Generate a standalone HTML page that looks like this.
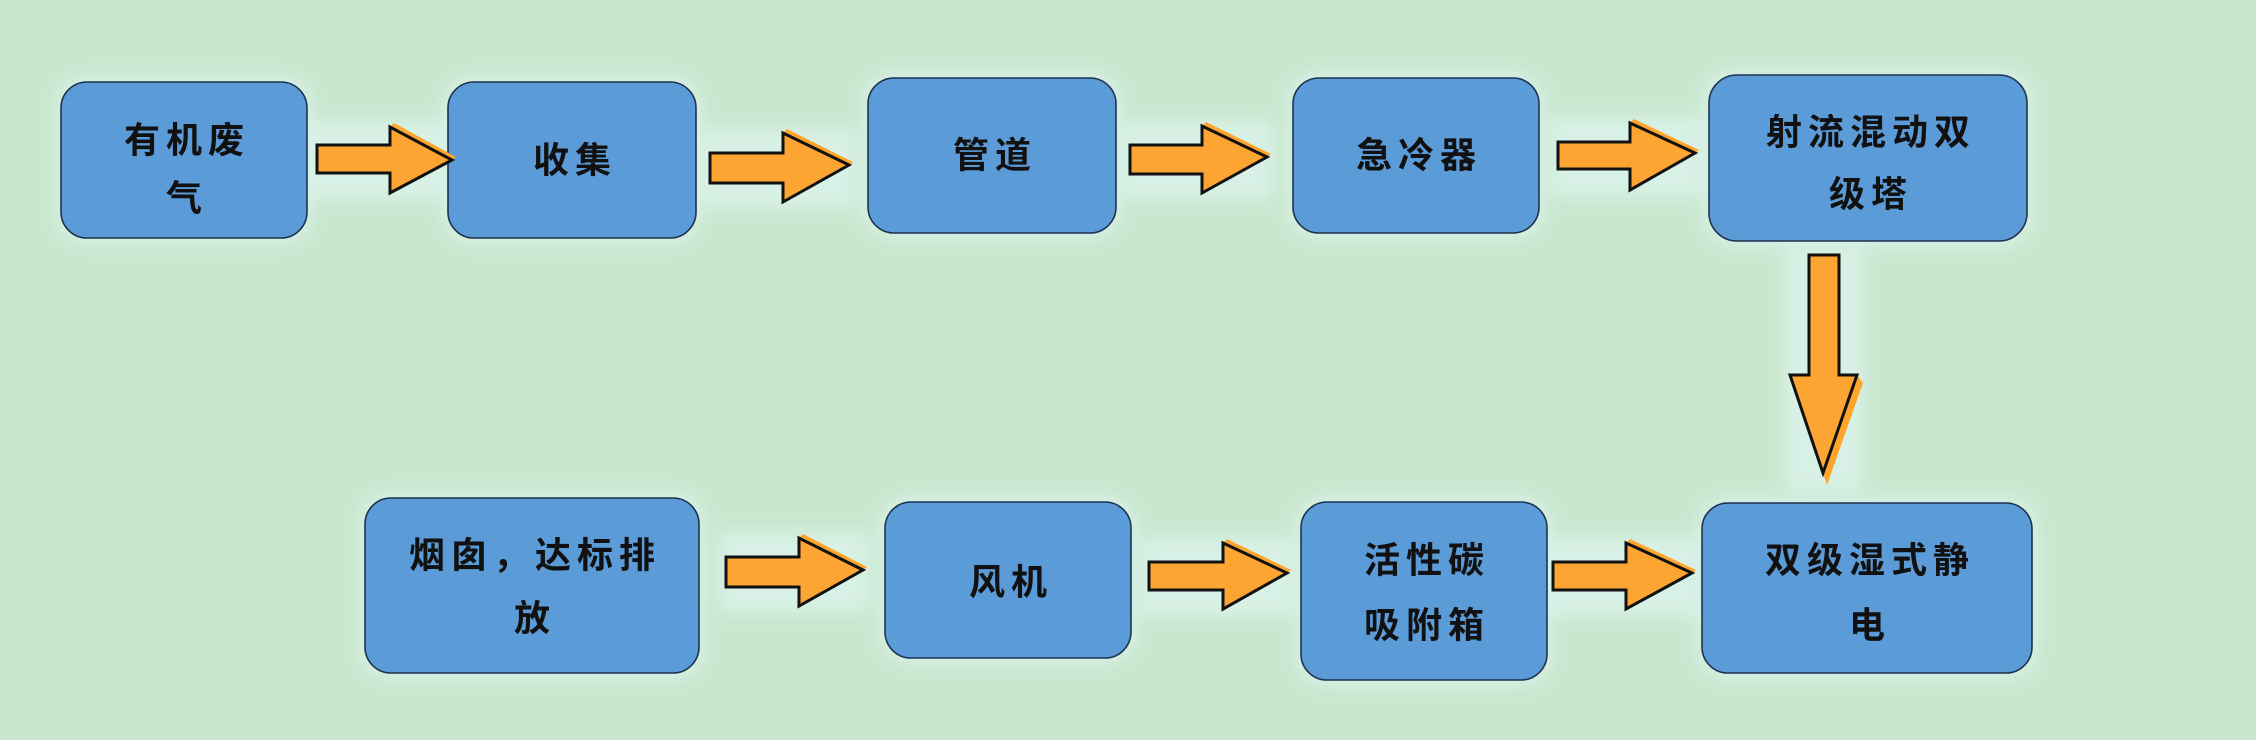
<!DOCTYPE html>
<html>
<head>
<meta charset="utf-8">
<style>
  html, body { margin: 0; padding: 0; }
  body { width: 2256px; height: 740px; overflow: hidden; background: #c9e7cf; }
  svg { display: block; }
  .t { font-family: "Liberation Sans", "Noto Sans CJK SC", sans-serif; font-size: 36px; font-weight: 700; fill: #111; letter-spacing: 6px; }
</style>
</head>
<body>
<svg width="2256" height="740" viewBox="0 0 2256 740" xmlns="http://www.w3.org/2000/svg">
  <defs>
    <filter id="halo" x="-20%" y="-30%" width="140%" height="160%">
      <feGaussianBlur stdDeviation="8"/>
    </filter>
  </defs>
  <rect x="0" y="0" width="2256" height="740" fill="#c9e7cf"/>

  <!-- halos -->
  <g fill="#d8f1e6" filter="url(#halo)">
    <rect x="56" y="77" width="256" height="166" rx="30"/>
    <rect x="443" y="77" width="258" height="166" rx="30"/>
    <rect x="863" y="73" width="258" height="165" rx="30"/>
    <rect x="1288" y="73" width="256" height="165" rx="30"/>
    <rect x="1704" y="70" width="328" height="176" rx="30"/>
    <rect x="360" y="493" width="344" height="185" rx="30"/>
    <rect x="880" y="497" width="256" height="166" rx="30"/>
    <rect x="1296" y="497" width="256" height="188" rx="30"/>
    <rect x="1697" y="498" width="340" height="180" rx="30"/>
    <rect x="310" y="120" width="150" height="80"/>
    <rect x="703" y="128" width="152" height="80"/>
    <rect x="1123" y="120" width="150" height="80"/>
    <rect x="1551" y="117" width="150" height="80"/>
    <rect x="719" y="532" width="150" height="80"/>
    <rect x="1142" y="537" width="150" height="80"/>
    <rect x="1546" y="537" width="150" height="80"/>
    <rect x="1784" y="250" width="80" height="240"/>
  </g>

  <!-- boxes -->
  <g fill="#5b9bd8" stroke="#1e3350" stroke-width="1.6">
    <rect x="61" y="82" width="246" height="156" rx="26"/>
    <rect x="448" y="82" width="248" height="156" rx="26"/>
    <rect x="868" y="78" width="248" height="155" rx="26"/>
    <rect x="1293" y="78" width="246" height="155" rx="26"/>
    <rect x="1709" y="75" width="318" height="166" rx="28"/>
    <rect x="365" y="498" width="334" height="175" rx="26"/>
    <rect x="885" y="502" width="246" height="156" rx="26"/>
    <rect x="1301" y="502" width="246" height="178" rx="26"/>
    <rect x="1702" y="503" width="330" height="170" rx="26"/>
  </g>

  <!-- arrow glows (orange offset) -->
  <g fill="#ffa52c">
    <polygon points="394,123 456,157 452,160 390,127"/>
    <polygon points="787,129 853,162 849,165 783,133"/>
    <polygon points="1206,122 1271,154 1267,157 1202,126"/>
    <polygon points="1634,119 1699,150 1695,153 1630,123"/>
    <polygon points="803,534 867,567 863,570 799,538"/>
    <polygon points="1227,539 1291,570 1287,573 1223,543"/>
    <polygon points="1630,539 1696,570 1692,573 1626,543"/>
    <polygon points="1857,375 1863,383 1827,485 1823,473"/>
  </g>

  <!-- arrows -->
  <g fill="#fda533" stroke="#111" stroke-width="3" stroke-linejoin="miter">
    <polygon points="317,145 390,145 390,127 452,160 390,193 390,173 317,173"/>
    <polygon points="710,153 783,153 783,133 849,165 783,202 783,183 710,183"/>
    <polygon points="1130,145 1202,145 1202,126 1267,157 1202,193 1202,174 1130,174"/>
    <polygon points="1558,142 1630,142 1630,123 1695,153 1630,190 1630,169 1558,169"/>
    <polygon points="726,557 799,557 799,538 863,570 799,606 799,587 726,587"/>
    <polygon points="1149,562 1223,562 1223,543 1287,573 1223,609 1223,590 1149,590"/>
    <polygon points="1553,562 1626,562 1626,543 1692,573 1626,609 1626,590 1553,590"/>
    <polygon points="1809,255 1839,255 1839,375 1857,375 1823,473 1790,375 1809,375"/>
  </g>

  <!-- labels -->
  <g class="t" text-anchor="middle" dominant-baseline="central">
    <text x="187" y="140">有机废</text>
    <text x="187" y="198">气</text>
    <text x="575" y="160">收集</text>
    <text x="995" y="155">管道</text>
    <text x="1419" y="155">急冷器</text>
    <text x="1871" y="132">射流混动双</text>
    <text x="1871" y="194">级塔</text>
    <text x="535" y="555">烟囱，达标排</text>
    <text x="535" y="618">放</text>
    <text x="1011" y="582">风机</text>
    <text x="1427" y="560">活性碳</text>
    <text x="1427" y="625">吸附箱</text>
    <text x="1870" y="560">双级湿式静</text>
    <text x="1870" y="625">电</text>
  </g>
</svg>
</body>
</html>
